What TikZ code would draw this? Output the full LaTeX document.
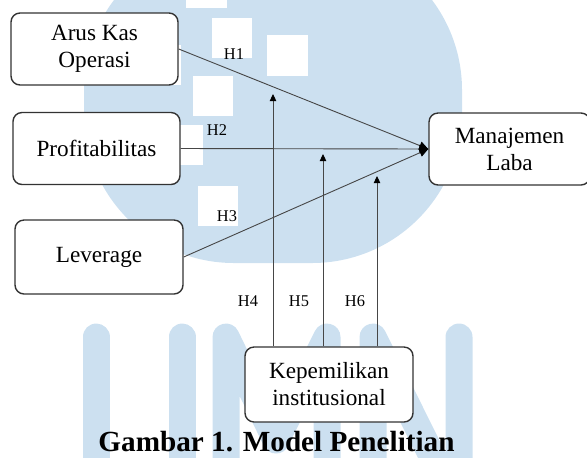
\documentclass[tikz,border=0pt]{standalone}
\usepackage{fontspec}
\setmainfont{Liberation Serif}
\usetikzlibrary{arrows.meta}
\definecolor{wmblue}{RGB}{204,224,240}
\definecolor{linegray}{RGB}{70,70,70}
\tikzset{
  varbox/.style={draw=black!80, line width=0.7pt, fill=white, rounded corners=4.5pt,
    align=center, font=\fontsize{11.6}{13.5}\selectfont,
    minimum width=83.5pt, minimum height=36pt, inner sep=0pt},
  hlabel/.style={font=\fontsize{8.2}{10}\selectfont, inner sep=0pt},
  link/.style={draw=linegray, line width=0.45pt, -{Triangle[length=3.5pt,width=3.2pt,color=black]}},
  mainlink/.style={link, -{Triangle[length=4.5pt,width=4.2pt,color=black]}},
}
\begin{document}
\begin{tikzpicture}[x=0.5pt, y=-0.5pt]
  % the frame
  \useasboundingbox (0,0) rectangle (587,457);
  % the watermark
  \fill[wmblue, rounded corners=75pt] (84,-60) rectangle (462,263);
  \foreach \x/\y/\w/\h in {186/-32/41/40, 212/18/40/40, 267/35/41/41, 193/76/40/40,
                           163/125/40/40, 198/186/40/40, 141/45/40/40} {
    \fill[white] (\x,\y) rectangle ++(\w,\h);
  };
  \begin{scope}[wmblue, line width=13.5pt, line cap=round, line join=round]
    \draw (96,337) -- (96,480);
    \draw (182,337) -- (182,480);
    \draw (226,480) -- (226,337) -- (276,440) -- (327,337) -- (327,480);
    \draw (373,480) -- (373,337) -- (459,510) -- (459,337);
  \end{scope}

  % the variables
  \node[varbox] (aruskas) at (94.5,49) {Arus Kas\\Operasi};
  \node[varbox] (profit) at (96.5,148.5) {Profitabilitas};
  \node[varbox, minimum width=84pt, minimum height=37pt] (lev) at (99,257) {Leverage};
  \node[varbox, minimum width=80.5pt] (laba) at (509.5,149) {Manajemen\\Laba};
  \node[varbox, minimum width=84pt, minimum height=37.5pt] (inst) at (329,384.5) {Kepemilikan\\institusional};

  % the direct paths
  \draw[mainlink] (aruskas.east) -- (laba.west);
  \draw[mainlink] (profit.east) -- (laba.west);
  \draw[mainlink] (lev.east) -- (laba.west);

  % the moderating paths
  \coordinate (tip4) at (273,94);
  \coordinate (tip5) at (323,154);
  \coordinate (tip6) at (377,176);
  \foreach \t in {tip4,tip5,tip6} {
    \draw[link] (inst.north -| \t) -- (\t);
  };

  % labels
  \node[hlabel] (h1) at (234,54) {H1};
  \node[hlabel] (h2) at (217,130) {H2};
  \node[hlabel] (h3) at (227,216) {H3};
  \node[hlabel] (h4) at (248,301) {H4};
  \node[hlabel] (h5) at (299,301) {H5};
  \node[hlabel] (h6) at (355,301) {H6};
  \node[font=\fontsize{14.6}{16}\selectfont\bfseries, inner sep=0pt] (caption) at (276.5,442)
    {Gambar 1. Model Penelitian};
\end{tikzpicture}
\end{document}
